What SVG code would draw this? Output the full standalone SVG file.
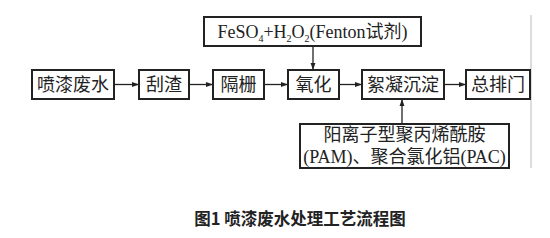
<svg xmlns="http://www.w3.org/2000/svg" width="550" height="238" viewBox="0 0 550 238">
<style>
.box{fill:#fff;stroke:#222;stroke-width:2}
.t{font-family:"Liberation Serif","Noto Sans CJK SC",serif;font-size:18px;fill:#222;text-anchor:middle}
.c{stroke:#222;stroke-width:1.3;fill:none;marker-end:url(#ah)}
.cap{font-family:"Noto Sans CJK SC",sans-serif;font-size:16.5px;font-weight:bold;fill:#222;text-anchor:middle}
</style>
<defs>
<marker id="ah" viewBox="0 0 10 10" refX="10" refY="5" markerWidth="7" markerHeight="7" orient="auto" markerUnits="userSpaceOnUse">
<path d="M0,1.5 L10,5 L0,8.5 z" fill="#222"/>
</marker>
</defs>
<rect width="550" height="238" fill="#fff"/>
<line x1="531" y1="15" x2="531" y2="168" stroke="#bbb" stroke-width="1"/>
<g id="connectors">
<line class="c" x1="114" y1="84.5" x2="139" y2="84.5"/>
<line class="c" x1="189" y1="84.5" x2="213" y2="84.5"/>
<line class="c" x1="264" y1="84.5" x2="288" y2="84.5"/>
<line class="c" x1="339" y1="84.5" x2="362" y2="84.5"/>
<line class="c" x1="444" y1="84.5" x2="466" y2="84.5"/>
<line class="c" x1="313" y1="46" x2="313" y2="70"/>
<line class="c" x1="402" y1="124" x2="402" y2="99"/>
</g>
<g id="n1"><rect class="box" x="32" y="70" width="82" height="29"/><text class="t" x="73" y="91">喷漆废水</text></g>
<g id="n2"><rect class="box" x="139" y="70" width="50" height="29"/><text class="t" x="164" y="91">刮渣</text></g>
<g id="n3"><rect class="box" x="213" y="70" width="51" height="29"/><text class="t" x="238.5" y="91">隔栅</text></g>
<g id="n4"><rect class="box" x="288" y="70" width="51" height="29"/><text class="t" x="313.5" y="91">氧化</text></g>
<g id="n5"><rect class="box" x="362" y="70" width="82" height="29"/><text class="t" x="403" y="91">絮凝沉淀</text></g>
<g id="n6"><rect class="box" x="466" y="70" width="64" height="29"/><text class="t" x="498" y="91">总排门</text></g>
<g id="n7"><rect class="box" x="204" y="17" width="217" height="29"/><text class="t" x="312.5" y="38">FeSO<tspan font-size="10" dy="4">4</tspan><tspan dy="-4">+H</tspan><tspan font-size="10" dy="4">2</tspan><tspan dy="-4">O</tspan><tspan font-size="10" dy="4">2</tspan><tspan dy="-4">(Fenton试剂)</tspan></text></g>
<g id="n8"><rect class="box" x="300" y="124" width="209" height="44"/><text class="t" x="404.5" y="141">阳离子型聚丙烯酰胺</text><text class="t" x="404.5" y="163">(PAM)、聚合氯化铝(PAC)</text></g>
<text class="cap" x="300" y="225">图1  喷漆废水处理工艺流程图</text>
</svg>
